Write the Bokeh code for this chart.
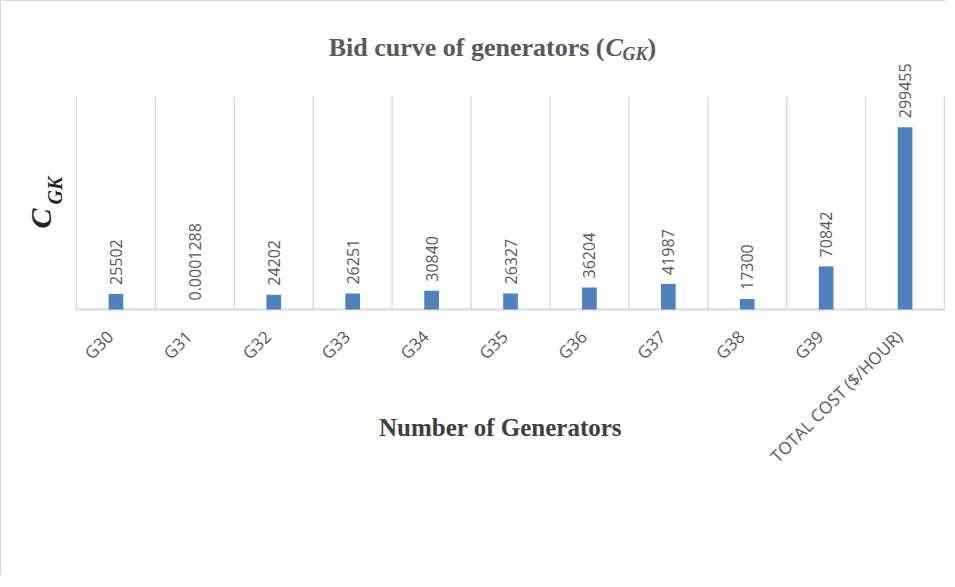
from math import pi
from bokeh.plotting import figure
from bokeh.models import ColumnDataSource, Label, Range1d
from bokeh.core.properties import value
from bokeh.embed import file_html
from bokeh.resources import INLINE

# ---- data ----
categories = ["G30", "G31", "G32", "G33", "G34", "G35", "G36", "G37", "G38", "G39",
              "TOTAL COST ($/HOUR)"]
values = [25502, 0.0001288, 24202, 26251, 30840, 26327, 36204, 41987, 17300, 70842, 299455]
value_labels = ["25502", "0.0001288", "24202", "26251", "30840", "26327", "36204",
                "41987", "17300", "70842", "299455"]
y_max = 350000

BAR = "#4f81bd"
GRID = "#d9d9d9"
TXT = "#595959"

W, H = 945, 575
# plot-area placement inside the canvas (pixels)
PL, PR, PT, PB = 75, 943, 95, 308
n = len(categories)
PX_X = (PR - PL) / n
PX_Y = (PB - PT) / y_max
X0 = -PL / PX_X
Y_TOP = y_max + PT / PX_Y


def dx(px):
    return X0 + px / PX_X


def dy(py):
    return Y_TOP - py / PX_Y


xs = [i + 0.5 for i in range(n)]
bounds = list(range(n + 1))
src = ColumnDataSource(dict(x=xs, top=values, lab=value_labels, cat=categories,
                            zero=[0] * n))
gsrc = ColumnDataSource(dict(x=bounds, y0=[0] * (n + 1), y1=[y_max] * (n + 1)))

p = figure(width=W, height=H, output_backend="svg", toolbar_location=None,
           x_range=Range1d(dx(0), dx(W)), y_range=Range1d(dy(H), dy(0)),
           min_border=0)
p.axis.visible = False
p.grid.visible = False
p.outline_line_color = None
p.background_fill_color = "white"
p.border_fill_color = "white"
p.styles = {"border-top": "1px solid #d9d9d9", "border-left": "1px solid #d9d9d9"}

# vertical gridlines between categories
p.segment(x0="x", x1="x", y0="y0", y1="y1", source=gsrc, line_color=GRID, line_width=1.3)
# category axis line
p.segment(x0=[0], x1=[n], y0=[0], y1=[0], line_color=GRID, line_width=2)

p.vbar(x="x", top="top", width=0.186, bottom=0, source=src, color=BAR, line_color=None)

# data labels
p.text(x="x", y="top", text="lab", source=src, angle=pi / 2,
       text_align="left", text_baseline="middle", y_offset=-9,
       text_font=value("Open Sans"), text_font_size="16px", text_color=TXT)

# category labels (rotated 45 degrees)
p.text(x="x", y="zero", text="cat", source=src, angle=pi / 4,
       text_align="right", text_baseline="middle", x_offset=-6, y_offset=24,
       text_font=value("Open Sans"), text_font_size="17px", text_color=TXT)

SERIF = "Liberation Serif"

# title
TB = 46
p.add_layout(Label(x=dx(603), y=dy(TB), text="Bid curve of generators (",
                   text_align="right", text_baseline="alphabetic",
                   text_font=SERIF, text_font_style="bold", text_font_size="26px",
                   text_color=TXT))
p.add_layout(Label(x=dx(604), y=dy(TB), text="C", text_align="left",
                   text_baseline="alphabetic", text_font=SERIF,
                   text_font_style="bold italic", text_font_size="26px", text_color=TXT))
p.add_layout(Label(x=dx(621), y=dy(TB + 6), text="GK", text_align="left",
                   text_baseline="alphabetic", text_font=SERIF,
                   text_font_style="bold italic", text_font_size="18px", text_color=TXT))
p.add_layout(Label(x=dx(646), y=dy(TB), text=")", text_align="left",
                   text_baseline="alphabetic", text_font=SERIF, text_font_style="bold",
                   text_font_size="26px", text_color=TXT))

# y axis label C_GK
p.add_layout(Label(x=dx(39), y=dy(227), text="C", angle=pi / 2, text_align="left",
                   text_baseline="alphabetic", text_font=SERIF,
                   text_font_style="bold italic", text_font_size="30px",
                   text_color="#262626"))
p.add_layout(Label(x=dx(53), y=dy(203), text="GK", angle=pi / 2, text_align="left",
                   text_baseline="alphabetic", text_font=SERIF,
                   text_font_style="bold italic", text_font_size="20px",
                   text_color="#262626"))

# x axis label
p.add_layout(Label(x=dx(499), y=dy(426), text="Number of Generators",
                   text_align="center", text_baseline="alphabetic", text_font=SERIF,
                   text_font_style="bold", text_font_size="25px", text_color="#404040"))

open("out.html", "w").write(file_html(p, INLINE))
